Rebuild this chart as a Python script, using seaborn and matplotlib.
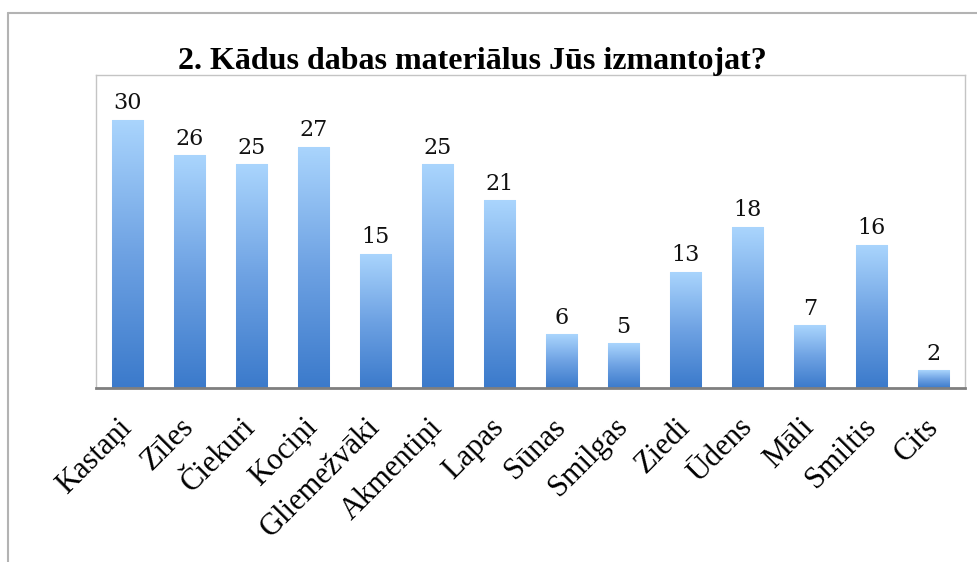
import numpy as np
import pandas as pd
import matplotlib
matplotlib.use("Agg")
import matplotlib.pyplot as plt
from matplotlib.colors import LinearSegmentedColormap
from matplotlib.lines import Line2D
import seaborn as sns

# dati
materiali = ["Kastaņi", "Zīles", "Čiekuri", "Kociņi", "Gliemežvāki", "Akmentiņi", "Lapas",
             "Sūnas", "Smilgas", "Ziedi", "Ūdens", "Māli", "Smiltis", "Cits"]
skaits = [30, 26, 25, 27, 15, 25, 21, 6, 5, 13, 18, 7, 16, 2]
virsraksts = "2. Kādus dabas materiālus Jūs izmantojat?"

df = pd.DataFrame({"materials": materiali, "skaits": skaits})

sns.set_theme(style="white")
plt.rcParams["font.family"] = ["Liberation Serif", "DejaVu Serif"]

fig = plt.figure(figsize=(9.77, 5.62), dpi=100)
ax = fig.add_axes([96 / 977, 1 - 388 / 562, 869 / 977, 313 / 562])

sns.barplot(data=df, x="materials", y="skaits", ax=ax, width=0.5,
            color="#6a9fe0", saturation=1)

# gradients katram stabiņam
cmap = LinearSegmentedColormap.from_list("zils", ["#3b7acb", "#6ea2e3", "#aad5fd"])
grad = np.linspace(0, 1, 256).reshape(-1, 1)
for p in ax.patches:
    x0 = p.get_x()
    w = p.get_width()
    h = p.get_height()
    p.set_facecolor("none")
    p.set_edgecolor("#d6e9fb")
    p.set_linewidth(0.8)
    im = ax.imshow(grad, cmap=cmap, aspect="auto", origin="lower",
                   extent=[x0, x0 + w, 0, h], zorder=2)
    im.set_clip_path(p)

ax.set_xlim(-0.5, len(materiali) - 0.5)
ax.set_ylim(0, 35)

ax.bar_label(ax.containers[0], labels=[str(v) for v in skaits], padding=4,
             fontsize=16, family=["DejaVu Serif"], color="#111111")

ax.set_xlabel("")
ax.set_ylabel("")
ax.set_yticks([])
ax.tick_params(axis="x", length=0, pad=25)
for lab in ax.get_xticklabels():
    lab.set_rotation(45)
    lab.set_ha("right")
    lab.set_va("center")
    lab.set_rotation_mode("anchor")
    lab.set_fontsize(22)
    lab.set_color("#000000")

for s in ["left", "top", "right"]:
    ax.spines[s].set_color("#c4c4c4")
    ax.spines[s].set_linewidth(1)
ax.spines["bottom"].set_color("#7f7f7f")
ax.spines["bottom"].set_linewidth(2)

fig.text(472 / 977, 1 - 69 / 562, virsraksts, ha="center", va="baseline",
         fontsize=23, fontweight="bold", color="#000000")

# ārējais rāmis
fig.add_artist(Line2D([8 / 977, 1], [1 - 13 / 562, 1 - 13 / 562],
                      transform=fig.transFigure, color="#b3b3b3", lw=1.5))
fig.add_artist(Line2D([8 / 977, 8 / 977], [0, 1 - 13 / 562],
                      transform=fig.transFigure, color="#b3b3b3", lw=1.5))

fig.savefig("out.png", dpi=100)
